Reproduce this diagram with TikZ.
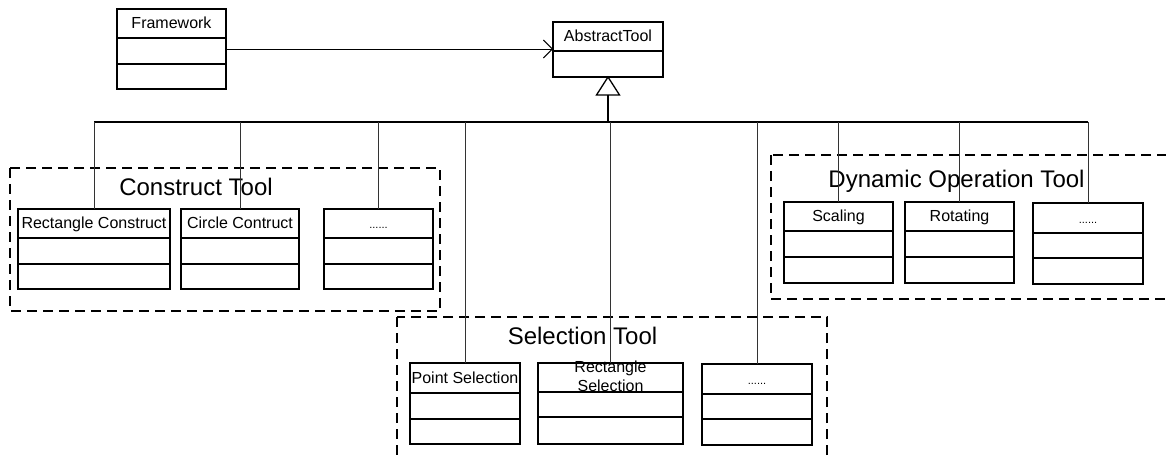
\documentclass[tikz,border=0pt]{standalone}
\usepackage{fontspec}
\setmainfont{Liberation Sans}
\usetikzlibrary{arrows.meta}

\tikzset{
  classframe/.style={draw=black, line width=1.1pt, inner sep=0pt, outer sep=0pt},
  divider/.style={draw=black, line width=1.1pt},
  headtext/.style={font=\fontsize{16}{19}\selectfont, inner sep=0pt, anchor=base},
  twolinetext/.style={font=\fontsize{16}{19}\selectfont, inner sep=0pt, align=center},
  grouplabel/.style={font=\fontsize{24}{28}\selectfont, inner sep=0pt, anchor=base},
  groupframe/.style={draw=black, line width=1.1pt, dash pattern=on 10pt off 6pt},
  branch/.style={draw=black!80, line width=0.9pt},
  busline/.style={draw=black, line width=1.6pt},
  assoc/.style={draw=black, line width=0.9pt, -{Straight Barb[length=9pt,width=18pt]}},
  generalization/.style={draw=black, line width=1.3pt, fill=white},
}

% UML class box: #1 name, #2 left, #3 top, #4 right, #5 bottom,
% #6 first divider, #7 second divider (empty if none), #8 header text
\newcommand{\umlclass}[8]{%
  \node[classframe, minimum width={(#4-#2)*1pt}, minimum height={(#5-#3)*1pt}]
    (#1) at ({(#2+#4)/2},{(#3+#5)/2}) {};
  \draw[divider] (#2,#6) -- (#4,#6);
  \if\relax\detokenize{#7}\relax\else\draw[divider] (#2,#7) -- (#4,#7);\fi
  \node[headtext] at ({(#2+#4)/2},{#6-9.5}) {#8};
}
\newcommand{\moredots}{{\fontsize{11}{13}\selectfont ......}}

\begin{document}
\begin{tikzpicture}[x=1pt,y=-1pt]
  \useasboundingbox (0,0) rectangle (1166,457);

  % package frames
  \draw[groupframe] (10,168) rectangle (440,311);
  \draw[groupframe] (771,155) rectangle (1185,299);
  \draw[groupframe] (397,317) rectangle (827,475);

  \node[grouplabel] (constructlbl) at (196,196) {Construct Tool};
  \node[grouplabel] (dynamiclbl) at (956.5,187) {Dynamic Operation Tool};
  \node[grouplabel] (selectionlbl) at (582.5,344) {Selection Tool};

  % classes
  \umlclass{fw}{117}{9}{226}{89}{38}{64}{Framework}
  \umlclass{at}{553}{22}{663}{77}{51}{}{AbstractTool}

  \umlclass{rc}{18}{209}{170}{289}{238}{264}{Rectangle Construct}
  \umlclass{cc}{181}{209}{299}{289}{238}{264}{Circle Contruct}
  \umlclass{cd}{324}{209}{433}{289}{238}{264}{\moredots}

  \umlclass{ps}{410}{363}{520}{444}{393}{419}{Point Selection}
  \umlclass{rs}{538}{363}{683}{444}{392}{417}{}
  \node[twolinetext] (rslbl) at (610.5,376) {Rectangle\\Selection};
  \umlclass{sd}{702}{364}{812}{445}{394}{419}{\moredots}

  \umlclass{sc}{784}{202}{893}{283}{231}{257}{Scaling}
  \umlclass{ro}{905}{202}{1014}{283}{231}{257}{Rotating}
  \umlclass{dd}{1033}{203}{1143}{284}{233}{258}{\moredots}

  % association
  \draw[assoc] (fw.east) -- (fw.east -| at.west);

  % generalization tree
  \coordinate (bus) at (608,122);
  \draw[generalization] (at.south) -- ++(11.5,18) -- ++(-23,0) -- cycle;
  \coordinate (tribase) at ([yshift=-18pt]at.south);
  \draw[busline] (tribase) -- (tribase |- bus);
  \draw[busline] (rc.north |- bus) -- (dd.north |- bus);
  \foreach \c in {rc,cc,cd,ps,rs,sd,sc,ro,dd}
    \draw[branch] (\c.north |- bus) -- (\c.north);
\end{tikzpicture}
\end{document}
